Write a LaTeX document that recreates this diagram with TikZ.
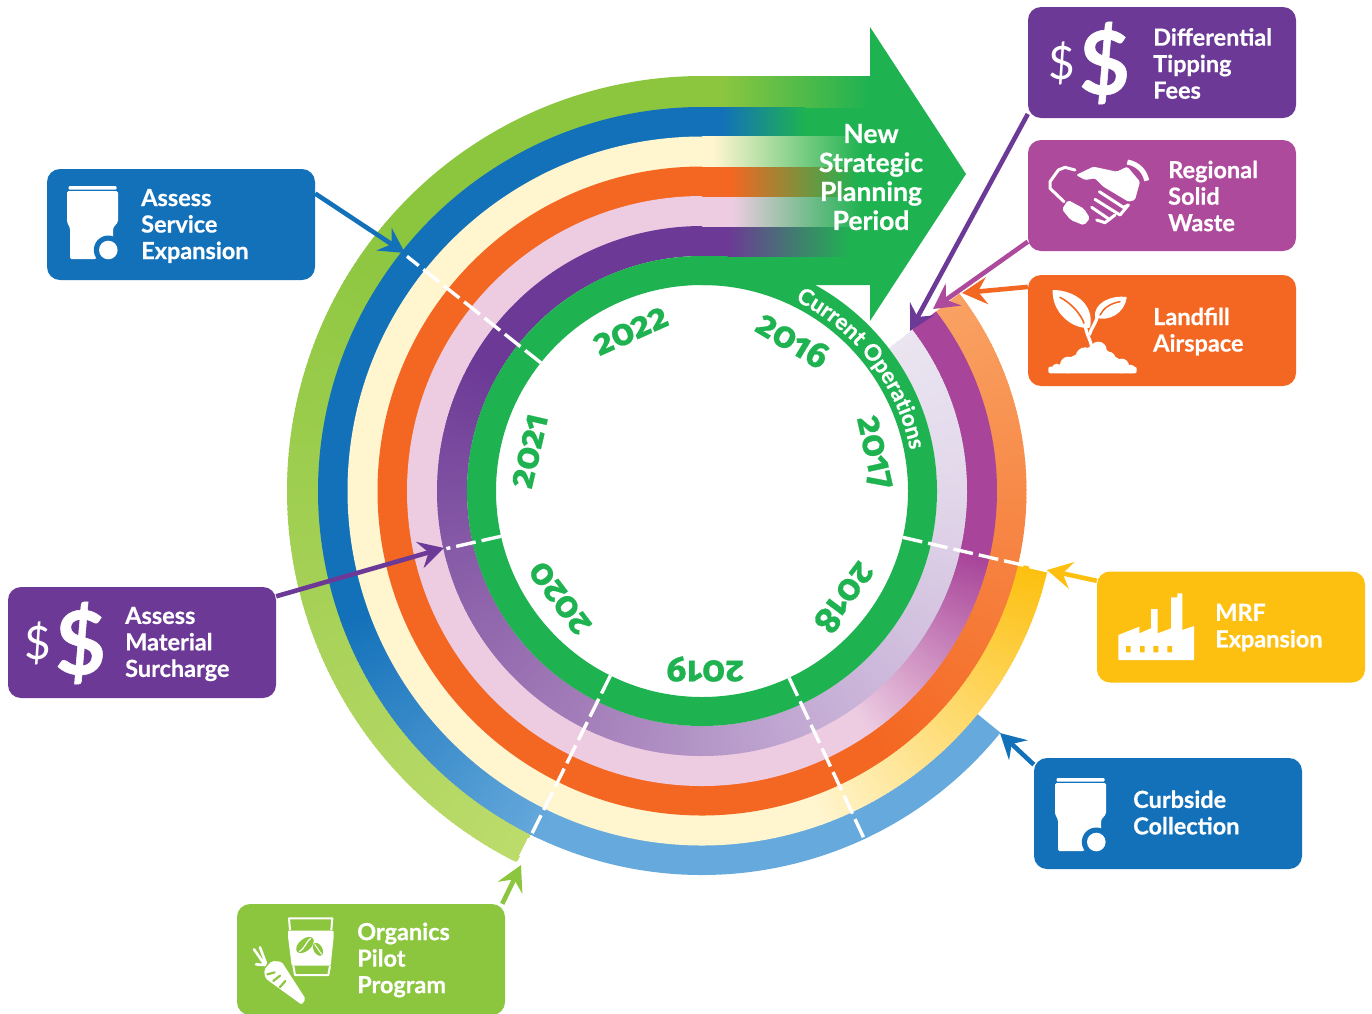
\documentclass[tikz,border=0pt]{standalone}
\usepackage{fontspec}
\setmainfont{Lato}[BoldFeatures={FakeBold=0.6}]
\newfontfamily\yearfont[Numbers=OldStyle,BoldFeatures={FakeBold=0.6}]{Fira Sans}
\usetikzlibrary{calc,arrows.meta,decorations.text}
\definecolor{cgreen}{HTML}{1FB251}
\definecolor{clime}{HTML}{8CC63F}
\definecolor{climeb}{HTML}{BCDB6B}
\definecolor{cblue}{HTML}{1371B9}
\definecolor{cblueb}{HTML}{66A9DC}
\definecolor{ccream}{HTML}{FFF5CF}
\definecolor{cyellow}{HTML}{FDC010}
\definecolor{corange}{HTML}{F46722}
\definecolor{corangeb}{HTML}{F9A263}
\definecolor{cpink}{HTML}{EDCCE2}
\definecolor{cmag}{HTML}{A84499}
\definecolor{cmagbox}{HTML}{AE4A9B}
\definecolor{cpurple}{HTML}{6C3A96}
\definecolor{cpb}{HTML}{A27CB8}
\definecolor{cpc}{HTML}{C6AFD6}
\definecolor{cpd}{HTML}{E2D7EA}
\definecolor{cpe}{HTML}{EAE5F1}
\newcommand\ringsec[5]{% r1 r2 a1 a2 colour
  \fill[#5] ($(C)+(#3:#2)$) arc[start angle=#3,end angle=#4,radius=#2]
    -- ($(C)+(#4:#1)$) arc[start angle=#4,end angle=#3,radius=#1] -- cycle;}
\newcommand\ringgrad[6]{% r1 r2 a1 a2 c1 c2
  \pgfmathtruncatemacro\nst{max(2,round((#4-#3)/0.7))}
  \foreach \ii in {1,...,\nst}{
    \pgfmathsetmacro\aa{#3+(#4-#3)*(\ii-1)/\nst-0.3}
    \pgfmathsetmacro\ab{#3+(#4-#3)*\ii/\nst}
    \pgfmathsetmacro\pp{100*(\ii-0.5)/\nst}
    \ringsec{#1}{#2}{\aa}{\ab}{#6!\pp!#5}
  }}
\newcommand\bandgrad[6]{% rin rout x1 x2 c1 c2
  \fill[#5] (701.5,{-491+#2}) rectangle (#3,{-491+#1});
  \shade[left color=#5,right color=#6] (#3-0.3,{-491+#2}) rectangle (#4,{-491+#1});}
\newcommand\dollars[2]{%
  \node[dollartext,font=\fontsize{46}{46}\selectfont] (#1s) at ($(#2)+(-22,0)$) {\$};
  \node[dollartext,font=\fontsize{88}{88}\selectfont\bfseries] (#1b) at ($(#2)+(21,0)$) {\$};}
\newcommand\binicon[2]{%
  \begin{scope}[shift={(#1,#2)}]
    \fill[white,rounded corners=1pt] (68.5,-186) rectangle (116.5,-189.5);
    \fill[white,rounded corners=1.5pt] (67,-191) -- (118,-191) -- (118,-222) -- (113,-228) -- (113,-242) -- (96,-259) -- (70,-259) -- (70,-228) -- (67,-222) -- cycle;
    \fill[cblue] (108.3,-250) circle[radius=14.5];
    \fill[white] (108.3,-250) circle[radius=9.3];
  \end{scope}}
\tikzset{
  boxA/.style={rounded corners=13pt,minimum width=268pt,minimum height=111pt,inner sep=0pt,draw=none},
  lab/.style={text=white,align=left,anchor=west,inner sep=0pt,font=\fontsize{23.5}{26.5}\selectfont\bfseries},
  arr/.style={line width=4.6pt,-{Stealth[length=25pt,width=27pt,inset=9pt]}},
  dashl/.style={white,line width=3.4pt,dash pattern=on 20pt off 6pt},
  year/.style={text=cgreen,inner sep=0pt,font=\fontsize{36}{36}\selectfont\yearfont\bfseries},
  dollartext/.style={text=white,inner sep=0pt},
  hs/.style={white,line cap=round,line join=round,line width=3pt},
}
\begin{document}
\begin{tikzpicture}[x=1pt,y=1pt]
\clip (0,0) rectangle (1372,-1013);
\coordinate (C) at (702,-491);
% arrow
\fill[cgreen] (701.5,-76) -- (870,-76) -- (870,-27) -- (966,-174) -- (870,-321) -- (870,-285) -- (701.5,-285) -- cycle;
% top straight bands
\bandgrad{384}{415}{722}{868}{clime}{cgreen}
\bandgrad{355}{384}{722}{805}{cblue}{cgreen}
\bandgrad{324}{355}{714}{862}{ccream}{cgreen}
\bandgrad{294}{324}{730}{858}{corange}{cgreen}
\bandgrad{264}{294}{732}{862}{cpink}{cgreen}
\bandgrad{235}{264}{728}{850}{cpurple}{cgreen}
% lime ring
\ringsec{383.5}{415}{90}{140}{clime}
\ringgrad{383.5}{415}{140}{243.5}{clime}{climeb}
% blue ring
\ringsec{354}{384}{90}{200}{cblue}
\ringgrad{354}{384}{200}{245}{cblue}{cblueb}
\ringsec{354}{384}{244.8}{321}{cblueb}
% cream ring
\ringsec{324}{354.5}{90}{290}{ccream}
\ringgrad{324}{354.5}{290}{347}{ccream}{cyellow}
% orange ring
\ringsec{294.5}{324.5}{90}{305}{corange}
\ringgrad{294.5}{324.5}{305}{397.5}{corange}{corangeb}
% pink ring
\ringsec{264.5}{295}{90}{305}{cpink}
\ringgrad{264.5}{295}{305}{347}{cpink}{cmag}
\ringsec{264.5}{295}{346.8}{397.5}{cmag}
% purple ring
\ringsec{235}{265}{90}{150}{cpurple}
\ringgrad{235}{265}{150}{240}{cpurple}{cpb}
\ringgrad{235}{265}{240}{300}{cpb}{cpc}
\ringgrad{235}{265}{300}{360}{cpc}{cpd}
\ringgrad{235}{265}{360}{397.5}{cpd}{cpe}
% green ring
\fill[cgreen,even odd rule] (C) circle[radius=235] (C) circle[radius=206];
% dividers
\draw[dashl] ($(C)+(141.5:206)$) -- ($(C)+(141.5:377)$);
\draw[dashl] ($(C)+(192.7:206)$) -- ($(C)+(192.7:262)$);
\draw[dashl] ($(C)+(243.6:206)$) -- ($(C)+(243.6:415)$);
\draw[dashl] ($(C)+(295:206)$) -- ($(C)+(295:384)$);
\draw[dashl] ($(C)+(347:206)$) -- ($(C)+(347:354)$);
\draw[white,line width=1.6pt,dash pattern=on 9pt off 2pt] ($(C)+(37.6:236)$) -- ($(C)+(37.6:265)$);
% arrow text
\node[text=white,align=center,inner sep=0pt,font=\fontsize{26.5}{29}\selectfont\bfseries] (newp) at (871,-177) {New\\Strategic\\Planning\\Period};
% ring text
\path[postaction={decorate},decoration={text along path,text align=center,
  text={|\fontsize{22.5}{22.5}\selectfont\bfseries\color{white}|Current Operations}}]
  ($(C)+(66:212)$) arc[start angle=66,end angle=9,radius=212];
% years
\node[year,rotate=-31] (y16) at (793,-340) {2016};
\node[year,rotate=-77.5] (y17) at (873,-453) {2017};
\node[year,rotate=-127] (y18) at (845,-598) {2018};
\node[year,rotate=180] (y19) at (705,-669) {2019};
\node[year,rotate=127] (y20) at (560,-598) {2020};
\node[year,rotate=77] (y21) at (530,-451) {2021};
\node[year,rotate=24] (y22) at (631,-331) {2022};
% boxes
\node[boxA,fill=cpurple] (dif) at (1162,-62.5) {};
\node[boxA,fill=cmagbox] (reg) at (1162,-195.5) {};
\node[boxA,fill=corange] (lan) at (1162,-330.5) {};
\node[boxA,fill=cyellow] (mrf) at (1231,-627) {};
\node[boxA,fill=cblue] (cur) at (1168,-813.5) {};
\node[boxA,fill=clime] (org) at (371,-959.5) {};
\node[boxA,fill=cblue] (ser) at (181,-224.5) {};
\node[boxA,fill=cpurple] (mat) at (142,-642.5) {};
% arrow ends
\coordinate (tdif) at (910,-331);
\coordinate (treg) at (933,-309);
\coordinate (tlan) at (962,-293);
\coordinate (tmrf) at (1047,-570);
\coordinate (tcur) at (1000,-733);
\coordinate (torg) at (521,-865);
\coordinate (tser) at (405,-253);
\coordinate (tmat) at (444,-548);
\draw[arr,cpurple] (dif.201.2) -- (tdif);
\draw[arr,cmagbox] (reg.199.5) -- (treg);
\draw[arr,corange] (lan.162) -- (tlan);
\draw[arr,cyellow] (mrf.161.4) -- (tmrf);
\draw[arr,cblue] (cur.160.1) -- (tcur);
\draw[arr,clime] (org.23.3) -- (torg);
\draw[arr,cblue] (ser.13.6) -- (tser);
\draw[arr,cpurple] (mat.19.1) -- (tmat);
% box labels
\node[lab] (difl) at (1153,-63.5) {Differential\\Tipping\\Fees};
\node[lab] (regl) at (1168,-196) {Regional\\Solid\\Waste};
\node[lab] (lanl) at (1153,-331.5) {Landfill\\Airspace};
\node[lab] (mrfl) at (1215,-627.5) {MRF\\Expansion};
\node[lab] (curl) at (1133,-812.5) {Curbside\\Collection};
\node[lab] (orgl) at (357,-960) {Organics\\Pilot\\Program};
\node[lab] (serl) at (141,-226) {Assess\\Service\\Expansion};
\node[lab] (matl) at (125,-644) {Assess\\Material\\Surcharge};
% icons
\dollars{d1}{1083.5,-63}
\dollars{d2}{59.5,-643}
\binicon{0}{0}
\binicon{988}{-592}
% factory
\begin{scope}[shift={(1090,-565)},scale=1/3]
  \fill[white] (85,-285) -- (85,-210) -- (148,-185) -- (148,-205) -- (183,-190) -- (183,-132) -- (203,-132) -- (203,-205) -- (243,-190) -- (243,-97) -- (262,-97) -- (262,-85) -- (277,-85) -- (277,-195) -- (312,-183) -- (312,-285) -- cycle;
  \fill[cyellow] (108,-243) rectangle (122,-262) (150,-243) rectangle (164,-262) (190,-243) rectangle (205,-262) (232,-243) rectangle (246,-262);
\end{scope}
% handshake
\begin{scope}[shift={(1040,-150)},scale=1/3]
  \draw[hs] (105,-60) -- (75,-52) -- (55,-60) -- (30,-95) -- (30,-115) -- (72,-155);
  \fill[white,rounded corners=2pt] (66,-178) -- (84,-150) -- (132,-176) -- (150,-205) -- (132,-226) -- (92,-210) -- cycle;
  \fill[white,rounded corners=1.5pt] (108,-75) -- (160,-50) -- (230,-65) -- (262,-50) -- (300,-95) -- (285,-150) -- (265,-155) -- (190,-110) -- (165,-85) -- (135,-90) -- cycle;
  \draw[white,line width=5pt] (262,-36) .. controls (295,-42) and (315,-65) .. (320,-92);
  \draw[hs] (178,-125) -- (250,-172) -- (265,-165) -- (240,-195) -- (165,-148);
  \draw[hs] (155,-172) -- (208,-208) -- (225,-195);
  \draw[hs] (170,-210) -- (195,-218) -- (208,-208);
\end{scope}
% plant
\begin{scope}[shift={(1040,-285)},scale=1/3]
  \fill[white] (38,-15) .. controls (100,-15) and (165,-55) .. (150,-128) .. controls (100,-135) and (35,-85) .. (38,-15);
  \draw[corange,line width=1.6pt,line cap=round] (60,-37) .. controls (95,-55) and (125,-90) .. (133,-118);
  \fill[white] (260,-36) .. controls (210,-30) and (160,-55) .. (165,-97) .. controls (205,-112) and (255,-85) .. (260,-36);
  \draw[corange,line width=1.5pt,line cap=round] (240,-50) .. controls (210,-55) and (190,-70) .. (180,-90);
  \draw[white,line width=3.2pt] (155,-185) .. controls (150,-160) and (137,-145) .. (135,-115);
  \draw[white,line width=3.2pt] (148,-150) .. controls (153,-130) and (165,-120) .. (172,-95);
  \fill[white,rounded corners=2pt] (25,-265) rectangle (290,-245);
  \fill[white] (45,-250) -- (75,-225) -- (115,-205) -- (140,-190) -- (175,-172) -- (200,-195) -- (225,-215) -- (260,-235) -- (280,-250) -- cycle;
  \fill[white] (175,-195) circle[radius=25] (135,-215) circle[radius=28] (205,-222) circle[radius=22] (85,-240) circle[radius=25] (245,-243) circle[radius=22] (50,-250) circle[radius=14] (272,-252) circle[radius=13];
\end{scope}
% cup and carrot
\begin{scope}[shift={(240,-905)},scale=1/3]
  \draw[white,line width=2pt,line join=round] (150,-75) -- (147,-40) -- (277,-40) -- (274,-75);
  \fill[white,rounded corners=1pt] (144,-77) -- (281,-77) -- (281,-95) -- (272,-182) -- (155,-182) -- (144,-95) -- cycle;
  \draw[white,line width=2pt,line join=round] (160,-182) -- (165,-210) -- (265,-210) -- (270,-182);
  \fill[clime,rotate around={40:(195,-120)}] (195,-120) ellipse[x radius=31,y radius=18];
  \draw[white,line width=1.2pt] (178,-140) .. controls (195,-130) and (198,-110) .. (212,-100);
  \fill[clime,rotate around={-60:(234,-133)}] (234,-133) ellipse[x radius=21,y radius=13];
  \draw[white,line width=1pt] (224,-118) .. controls (232,-128) and (236,-138) .. (246,-148);
  \fill[white,rounded corners=2pt] (72,-195) -- (95,-168) -- (125,-170) -- (197,-282) -- (185,-299) -- (76,-220) -- cycle;
  \draw[clime,line width=2.2pt,line cap=round] (82,-208) -- (104,-202) (100,-228) -- (120,-212) (120,-246) -- (136,-228);
  \draw[white,line width=2.6pt,line cap=round] (42,-133) -- (75,-180) (60,-127) -- (78,-175) (48,-178) -- (75,-180);
\end{scope}
\end{tikzpicture}
\end{document}
